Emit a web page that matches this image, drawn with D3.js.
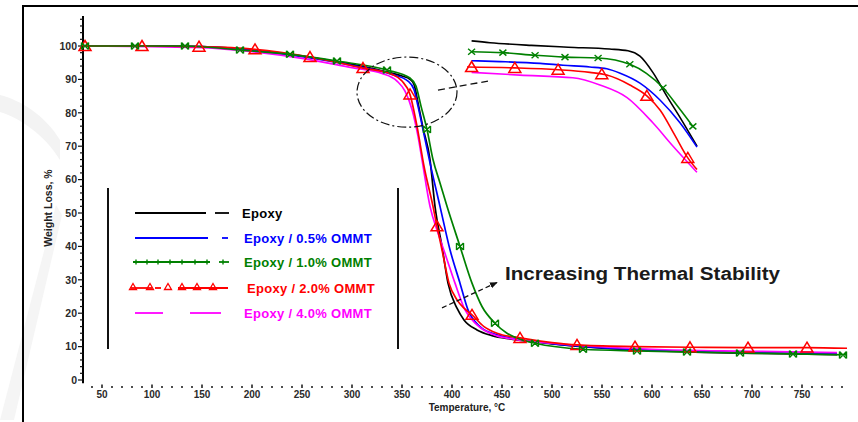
<!DOCTYPE html>
<html>
<head>
<meta charset="utf-8">
<script src="https://cdn.jsdelivr.net/npm/d3@7/dist/d3.min.js"></script>
<style>
  body { margin: 0; background: #fff; }
  svg { display: block; font-family: "Liberation Sans", Arial, sans-serif; }
</style>
</head>
<body>
<svg id="chart" width="858" height="422"></svg>
<script>
// ---- axis ticks ----
const xTickLabels = [50, 100, 150, 200, 250, 300, 350, 400, 450, 500, 550, 600, 650, 700, 750];
const yTickLabels = [0, 10, 20, 30, 40, 50, 60, 70, 80, 90, 100];

// ---- series: [temperature °C, weight %] ----
const seriesNames = ["Epoxy", "Epoxy / 0.5% OMMT", "Epoxy / 1.0% OMMT", "Epoxy / 2.0% OMMT", "Epoxy / 4.0% OMMT"];
const seriesColors = ["#000000", "#0000ff", "#008000", "#ff0000", "#ff00ff"];

const epoxy = [[31,100],[100,100],[150,99.8],[200,98.8],[250,97],[300,94.5],[330,92.6],[350,91],[358,90],[362,88.5],[366,83],[371,75.5],[378,66],[383,52],[390,40],[396,29],[405,21.5],[412,18],[425,15],[440,13.3],[458,12.3],[480,11.5],[500,10.8],[550,9.5],[600,8.8],[650,8.3],[700,8],[750,7.8],[785,7.6]];
const epoxy05 = [[31,100],[100,100],[150,99.8],[200,98.7],[250,96.8],[300,94.2],[340,91.5],[356,89.5],[362,87],[366,82],[371,75],[378,65],[388,52],[398,39],[408,29],[416,21],[428,16],[445,13.5],[460,12.5],[500,10.9],[600,8.9],[700,8.2],[785,7.8]];
const epoxy10 = [[31,100],[83,100],[133,100],[188,98.8],[238,97.5],[285,95.5],[335,92.8],[358,90.4],[364,88],[369,82],[375,75],[381,66],[388,59],[395,52],[408,40],[420,29],[430,22],[443,17],[455,14],[470,12],[483,11],[531,9.2],[585,8.7],[635,8.4],[688,8.1],[741,7.8],[795,7.5]];
const epoxy20 = [[31,100],[90,100],[147,99.8],[203,99],[258,96.7],[311,93.4],[340,91.5],[350,89.5],[358,85.5],[365,76],[372,64],[381,52],[385,46],[390,39],[397,29],[405,24],[412,21.5],[420,19.5],[432,16],[445,14],[468,12.6],[500,11.2],[525,10.5],[583,10],[638,9.8],[696,9.7],[755,9.7],[795,9.5]];
const epoxy40 = [[31,100],[100,99.8],[150,99.5],[200,98.3],[250,96.3],[300,93.5],[330,91.8],[345,89.5],[353,86.5],[360,81],[366,73],[370,66],[378,52],[386,44],[394,37],[403,29],[413,21],[425,16.5],[445,13.2],[460,12.3],[500,11],[600,9.2],[700,8.6],[785,8.2]];

// marker positions along the 1.0 % and 2.0 % curves
const epoxy10Markers = [[33,100],[83,100],[133,100],[188,98.8],[238,97.5],[285,95.5],[335,92.8],[375,75],[408,40],[443,17],[483,11],[531,9.2],[585,8.7],[635,8.4],[688,8.1],[741,7.8],[791,7.5]];
const epoxy20Markers = [[33,100],[90,100],[147,99.8],[203,99],[258,96.7],[311,93.4],[358,85.5],[385,46],[420,19.5],[468,12.6],[525,10.5],[583,10],[638,9.8],[696,9.7],[755,9.7]];

// ---- magnified onset region (inset) ----
const insetEpoxy = [[321,95.9],[325,95.7],[334,95.4],[342,95.2],[351,95.0],[355,94.8],[357.6,94.2],[360.4,92.4],[363.5,89.7],[366.3,87.4],[370,84.2]];
const insetEpoxy05 = [[321,93.7],[327.2,93.6],[335.9,93.4],[340.9,93.2],[346.7,93.0],[350.4,92.8],[353.3,92.3],[357.6,91.2],[362,89.3],[366.3,86.8],[370,84.1]];
const insetEpoxy10 = [[321,94.7],[327.8,94.6],[334.8,94.3],[341.3,94.1],[348.5,94.0],[355.4,93.3],[359,92.3],[362.6,90.7],[366,88.5],[369.1,86.4]];
const insetEpoxy20 = [[320,93.0],[330.4,92.9],[339.8,92.7],[346.7,92.4],[350.4,92.1],[355.4,91.0],[359.1,89.8],[362,88.2],[365.2,85.4],[368,82.9],[370,81.6]];
const insetEpoxy40 = [[321,92.4],[331.5,92.1],[343,91.8],[348.9,91.0],[354.8,89.6],[360.4,86.8],[364.8,84.2],[370,81.3]];
const insetEpoxy10Markers = [[321,94.7],[327.8,94.6],[334.8,94.3],[341.3,94.1],[348.5,94.0],[355.4,93.3],[362.6,90.7],[369.1,86.4]];
const insetEpoxy20Markers = [[321,93.0],[330.4,92.9],[339.8,92.7],[349.3,92.2],[359.1,89.8],[368,82.9]];

const svg = d3.select("#chart");

// faint background watermark
svg.append("path")
  .attr("d", "M0,95 C20,100 45,115 60,140 L60,160 C45,135 20,118 0,112 Z")
  .attr("fill", "#f3f3f3");
svg.append("path")
  .attr("d", "M0,420 L14,420 L62,215 L56,205 Z")
  .attr("fill", "#f5f5f5");

// frame
svg.append("path")
  .attr("d", "M23,422 V6 H858")
  .attr("fill", "none").attr("stroke", "#000").attr("stroke-width", 2);

// ---- scales ----
const x = d3.scaleLinear().domain([30, 800]).range([82, 852]);
const y = d3.scaleLinear().domain([0, 100]).range([380, 46]);
const xi = d3.scaleLinear().domain([320, 370]).range([467, 697]);
const yi = d3.scaleLinear().domain([96, 81]).range([40, 175]);

// ---- y axis ----
const yAxisG = svg.append("g").attr("transform", `translate(${x(31)},0)`);
yAxisG.append("line")
  .attr("y1", y(109)).attr("y2", y(-1))
  .attr("stroke", "#000").attr("stroke-width", 2);
yAxisG.selectAll("line.minor")
  .data(d3.range(0, 109, 2))
  .join("line").attr("class", "minor")
  .attr("x1", d => d % 10 === 0 ? -5 : -3).attr("x2", 0)
  .attr("y1", d => y(d)).attr("y2", d => y(d))
  .attr("stroke", "#111").attr("stroke-width", 1.2);
yAxisG.selectAll("text")
  .data(yTickLabels)
  .join("text")
  .attr("x", -6).attr("y", d => y(d) + 3.8)
  .attr("text-anchor", "end")
  .attr("font-size", 10.5).attr("font-weight", "bold").attr("fill", "#2a2a2a")
  .text(d => d);

// ---- x axis (tick dots only) ----
const xAxisY = 387;
svg.append("g").selectAll("line")
  .data(d3.range(40, 800, 10))
  .join("line")
  .attr("x1", d => x(d)).attr("x2", d => x(d))
  .attr("y1", d => d % 50 === 0 ? xAxisY - 2.5 : xAxisY - 1)
  .attr("y2", xAxisY + 1)
  .attr("stroke", "#222").attr("stroke-width", 1.6);
svg.append("g").selectAll("text")
  .data(xTickLabels)
  .join("text")
  .attr("x", d => x(d)).attr("y", 398)
  .attr("text-anchor", "middle")
  .attr("font-size", 10).attr("font-weight", "bold").attr("fill", "#2a2a2a")
  .text(d => d);

// axis titles
svg.append("text")
  .attr("transform", "translate(52,208) rotate(-90)")
  .attr("text-anchor", "middle")
  .attr("font-size", 10.5).attr("font-weight", "bold").attr("fill", "#222")
  .text("Weight Loss, %");
svg.append("text")
  .attr("x", 467).attr("y", 411)
  .attr("text-anchor", "middle")
  .attr("font-size", 10).attr("font-weight", "bold").attr("fill", "#222")
  .text("Temperature, °C");

// ---- marker shapes ----
const crossPath = "M-3.5,-3.5L3.5,3.5M-3.5,3.5L3.5,-3.5M-3.5,-3.5V3.5M3.5,-3.5V3.5";
const triPath = "M0,-5.5L6,4.5L-6,4.5Z";

// ---- main curves ----
const mainLine = d3.line().x(d => x(d[0])).y(d => y(d[1])).curve(d3.curveMonotoneX);
const mainSeries = [epoxy, epoxy05, epoxy40, epoxy20, epoxy10];
const mainColors = [seriesColors[0], seriesColors[1], seriesColors[4], seriesColors[3], seriesColors[2]];
svg.append("g").selectAll("path")
  .data(mainSeries)
  .join("path")
  .attr("d", mainLine)
  .attr("fill", "none")
  .attr("stroke", (d, i) => mainColors[i])
  .attr("stroke-width", 1.7);

svg.append("g").selectAll("path")
  .data(epoxy20Markers)
  .join("path")
  .attr("transform", d => `translate(${x(d[0])},${y(d[1])})`)
  .attr("d", triPath)
  .attr("fill", "none").attr("stroke", seriesColors[3]).attr("stroke-width", 1.5);
svg.append("g").selectAll("path")
  .data(epoxy10Markers)
  .join("path")
  .attr("transform", d => `translate(${x(d[0])},${y(d[1])})`)
  .attr("d", crossPath)
  .attr("fill", "none").attr("stroke", seriesColors[2]).attr("stroke-width", 1.4);

// ---- inset curves ----
const insetLine = d3.line().x(d => xi(d[0])).y(d => yi(d[1])).curve(d3.curveMonotoneX);
const insetSeries = [insetEpoxy, insetEpoxy05, insetEpoxy40, insetEpoxy20, insetEpoxy10];
svg.append("g").selectAll("path")
  .data(insetSeries)
  .join("path")
  .attr("d", insetLine)
  .attr("fill", "none")
  .attr("stroke", (d, i) => mainColors[i])
  .attr("stroke-width", 1.6);
svg.append("g").selectAll("path")
  .data(insetEpoxy20Markers)
  .join("path")
  .attr("transform", d => `translate(${xi(d[0])},${yi(d[1])})`)
  .attr("d", triPath)
  .attr("fill", "none").attr("stroke", seriesColors[3]).attr("stroke-width", 1.5);
svg.append("g").selectAll("path")
  .data(insetEpoxy10Markers)
  .join("path")
  .attr("transform", d => `translate(${xi(d[0])},${yi(d[1])})`)
  .attr("d", "M-3.5,-3L3.5,3M-3.5,3L3.5,-3")
  .attr("fill", "none").attr("stroke", seriesColors[2]).attr("stroke-width", 1.4);

// ---- magnifier ellipse and pointer ----
svg.append("ellipse")
  .attr("cx", x(355)).attr("cy", y(86.2))
  .attr("rx", x(405) - x(355)).attr("ry", y(75.7) - y(86.2))
  .attr("fill", "none").attr("stroke", "#111").attr("stroke-width", 1.2)
  .attr("stroke-dasharray", "9,3,2,3");
svg.append("line")
  .attr("x1", x(386)).attr("y1", y(86.8))
  .attr("x2", x(436)).attr("y2", y(89.5))
  .attr("stroke", "#111").attr("stroke-width", 1.3)
  .attr("stroke-dasharray", "7,4");

// ---- "Increasing Thermal Stability" annotation ----
svg.append("defs").append("marker")
  .attr("id", "arrowHead")
  .attr("viewBox", "0 0 10 10").attr("refX", 9).attr("refY", 5)
  .attr("markerWidth", 6).attr("markerHeight", 6)
  .attr("orient", "auto")
  .append("path").attr("d", "M0,1L10,5L0,9Z").attr("fill", "#111");
svg.append("line")
  .attr("x1", x(390)).attr("y1", y(21.6))
  .attr("x2", x(445)).attr("y2", y(29.2))
  .attr("stroke", "#111").attr("stroke-width", 1.3)
  .attr("stroke-dasharray", "5,3")
  .attr("marker-end", "url(#arrowHead)");
svg.append("text")
  .attr("x", 505).attr("y", 280)
  .attr("font-size", 18).attr("font-weight", "bold").attr("fill", "#1a1a1a")
  .attr("textLength", 275).attr("lengthAdjust", "spacingAndGlyphs")
  .text("Increasing Thermal Stability");

// ---- legend ----
const legend = svg.append("g");
legend.selectAll("line.side")
  .data([108, 398])
  .join("line").attr("class", "side")
  .attr("x1", d => d).attr("x2", d => d)
  .attr("y1", 188).attr("y2", 349)
  .attr("stroke", "#111").attr("stroke-width", 2);

const rowY = [213, 238, 262, 288, 313];
const labelX = [242, 244, 244, 247, 244];
// sample line segments per row, as [x1, x2]
const sampleSegments = [
  [[135, 206], [215, 229]],
  [[135, 208], [222, 228]],
  [[133, 210], [219, 229]],
  [[131, 152], [155, 161], [178, 228]],
  [[135, 163], [190, 221]]
];
sampleSegments.forEach((segs, i) => {
  legend.selectAll(null)
    .data(segs)
    .join("line")
    .attr("x1", d => d[0]).attr("x2", d => d[1])
    .attr("y1", rowY[i]).attr("y2", rowY[i])
    .attr("stroke", seriesColors[i]).attr("stroke-width", 1.8);
});
// small ticks along the 1.0 % sample
legend.selectAll(null)
  .data([136, 147, 158, 170, 182, 195, 207, 223])
  .join("line")
  .attr("x1", d => d).attr("x2", d => d)
  .attr("y1", rowY[2] - 2.5).attr("y2", rowY[2] + 2.5)
  .attr("stroke", seriesColors[2]).attr("stroke-width", 1.4);
// small triangles along the 2.0 % sample
legend.selectAll(null)
  .data([133, 150, 168, 182, 197, 213])
  .join("path")
  .attr("transform", d => `translate(${d},${rowY[3] - 1})`)
  .attr("d", "M0,-3.5L3.5,2.5L-3.5,2.5Z")
  .attr("fill", "none").attr("stroke", seriesColors[3]).attr("stroke-width", 1.3);

legend.selectAll("text")
  .data(seriesNames)
  .join("text")
  .attr("x", (d, i) => labelX[i]).attr("y", (d, i) => rowY[i] + 4.5)
  .attr("font-size", 13).attr("font-weight", "bold")
  .attr("letter-spacing", 0.3)
  .attr("fill", (d, i) => seriesColors[i])
  .text(d => d);
</script>
</body>
</html>
